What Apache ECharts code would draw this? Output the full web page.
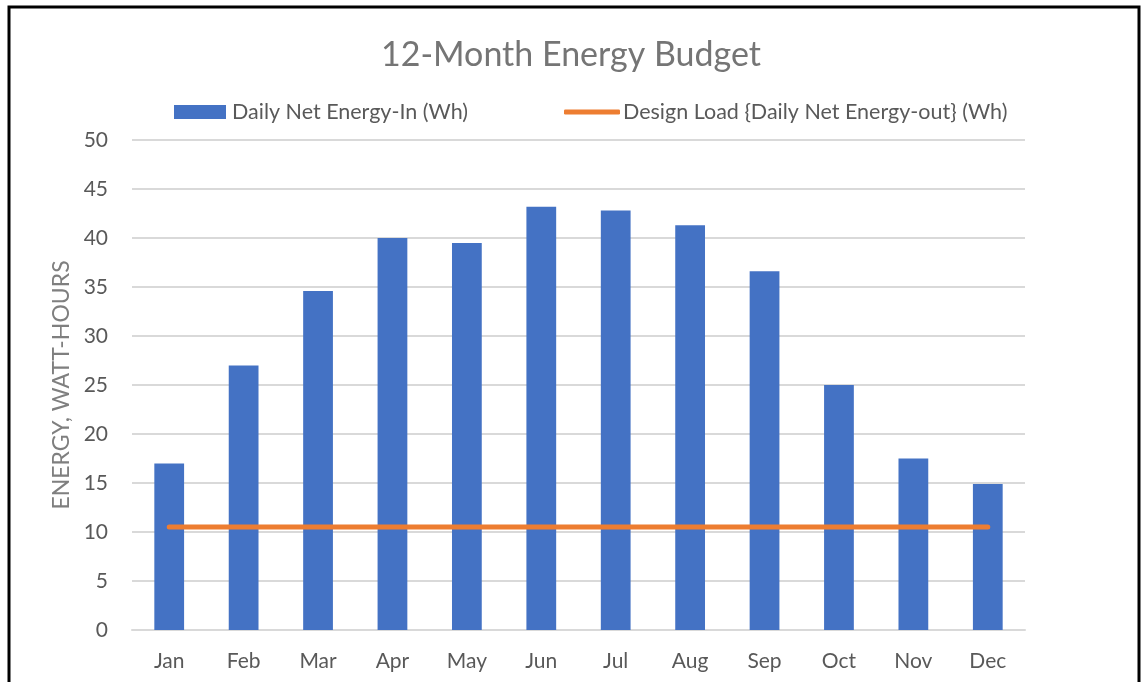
<!DOCTYPE html>
<html>
<head>
<meta charset="utf-8">
<script src="https://cdn.jsdelivr.net/npm/echarts@6/dist/echarts.min.js"></script>
<style>
html,body{margin:0;padding:0;background:#fff;}
#chart{width:1142px;height:682px;}
</style>
</head>
<body>
<div id="chart"></div>
<script>
const months = ['Jan','Feb','Mar','Apr','May','Jun','Jul','Aug','Sep','Oct','Nov','Dec'];
const energyIn = [17, 27, 34.6, 40, 39.5, 43.2, 42.8, 41.3, 36.6, 25, 17.5, 14.9];
const designLoad = [10.5, 10.5, 10.5, 10.5, 10.5, 10.5, 10.5, 10.5, 10.5, 10.5, 10.5, 10.5];
const yTicks = {min: 0, max: 50, interval: 5};

const FONT = 'Lato, "Open Sans", sans-serif';
const chart = echarts.init(document.getElementById('chart'));
chart.setOption({
  backgroundColor: '#fff',
  animation: false,
  graphic: [{
    type: 'rect',
    shape: {x: 9, y: 7, width: 1130, height: 700},
    style: {fill: 'none', stroke: '#000', lineWidth: 3},
    silent: true
  }],
  title: {
    text: '12-Month Energy Budget',
    left: 'center',
    top: 33,
    textStyle: {fontFamily: FONT, fontSize: 34, fontWeight: 'normal', color: '#757575'}
  },
  legend: [{
    left: 174,
    top: 101,
    padding: 0,
    itemWidth: 52,
    itemHeight: 14,
    textStyle: {fontFamily: FONT, fontSize: 21.5, color: '#595959', padding: [0, 0, 0, 1]},
    data: [{name: 'Daily Net Energy-In (Wh)', icon: 'rect'}]
  }, {
    left: 564,
    top: 101,
    padding: 0,
    itemWidth: 56,
    itemHeight: 5,
    textStyle: {fontFamily: FONT, fontSize: 21.5, color: '#595959', padding: [0, 0, 0, -2]},
    data: [{name: 'Design Load {Daily Net Energy-out} (Wh)', icon: 'roundRect'}]
  }],
  grid: {left: 132, right: 117, top: 140, bottom: 52, containLabel: false},
  xAxis: {
    type: 'category',
    data: months,
    axisLine: {show: true, lineStyle: {color: '#d9d9d9', width: 2}},
    axisTick: {show: false},
    axisLabel: {fontFamily: FONT, fontSize: 21, color: '#595959', margin: 21}
  },
  yAxis: {
    type: 'value',
    min: yTicks.min,
    max: yTicks.max,
    interval: yTicks.interval,
    name: 'ENERGY, WATT-HOURS',
    nameLocation: 'middle',
    nameGap: 58,
    nameTextStyle: {fontFamily: FONT, fontSize: 23, color: '#7f7f7f'},
    axisLine: {show: false},
    axisTick: {show: false},
    splitLine: {lineStyle: {color: '#d9d9d9', width: 2}},
    axisLabel: {fontFamily: FONT, fontSize: 21, color: '#595959', margin: 24}
  },
  series: [
    {
      name: 'Daily Net Energy-In (Wh)',
      type: 'bar',
      data: energyIn,
      barWidth: '40%',
      itemStyle: {color: '#4472C4'}
    },
    {
      name: 'Design Load {Daily Net Energy-out} (Wh)',
      type: 'line',
      data: designLoad,
      symbol: 'none',
      lineStyle: {color: '#ED7D31', width: 5, cap: 'round'},
      itemStyle: {color: '#ED7D31'}
    }
  ]
});
</script>
</body>
</html>
